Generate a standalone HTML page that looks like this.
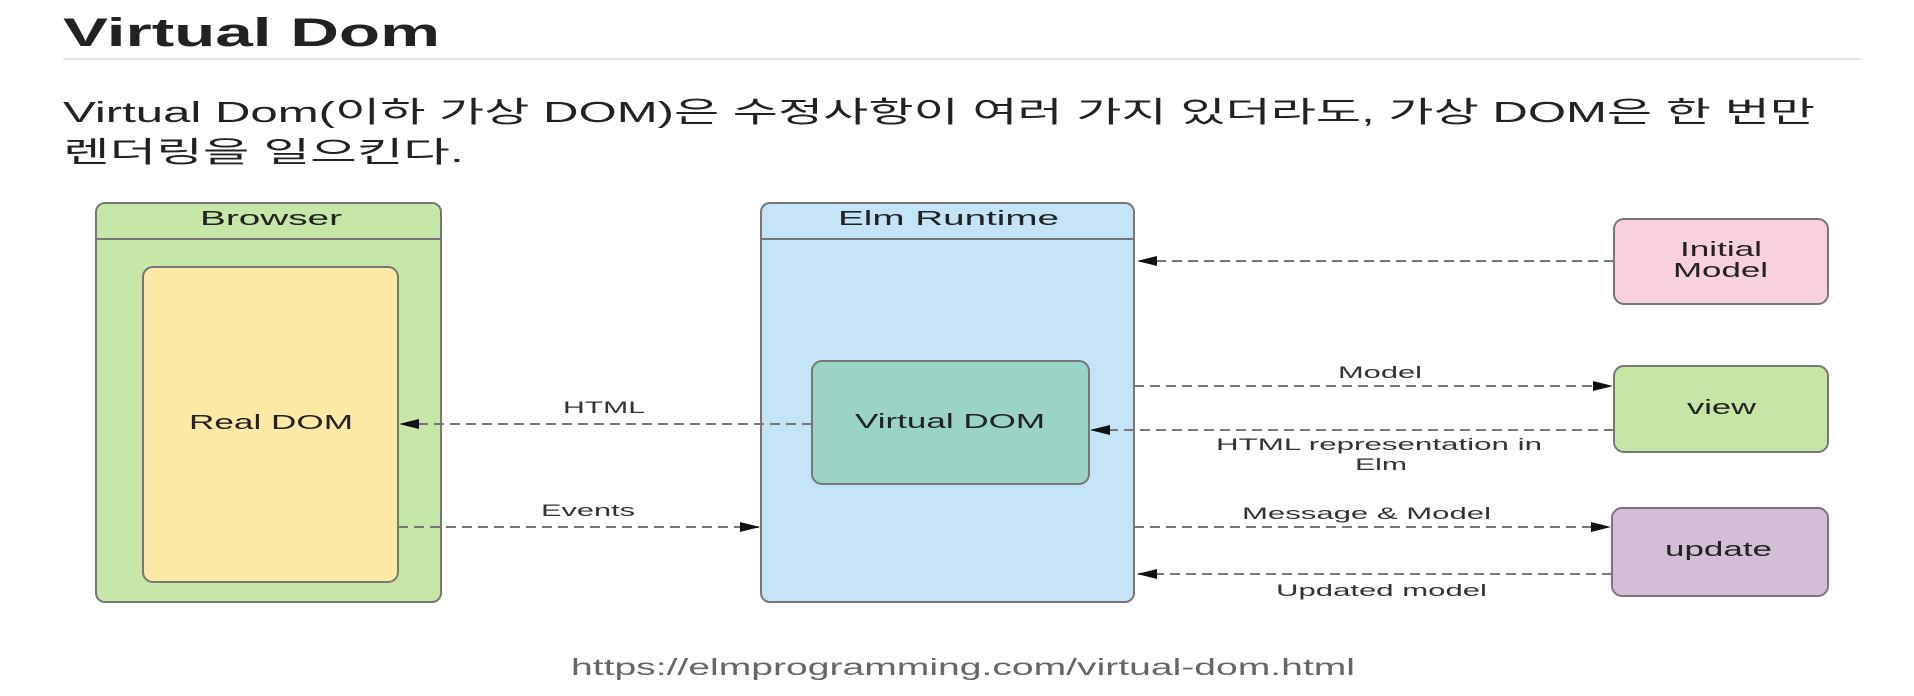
<!DOCTYPE html>
<html><head><meta charset="utf-8"><style>
html,body{margin:0;padding:0;background:#fff;}
svg{display:block;}
text{font-family:"Liberation Sans","Noto Sans CJK KR",sans-serif;}
</style></head><body>
<svg width="1914" height="696" viewBox="0 0 1914 696" xmlns="http://www.w3.org/2000/svg">
<defs>
<marker id="ah" markerWidth="20" markerHeight="14" refX="19" refY="7" orient="auto" markerUnits="userSpaceOnUse">
<path d="M0,2 L20,7 L0,12 z" fill="#111"/></marker>
</defs>
<text x="63" y="46" font-size="40" font-weight="bold" fill="#222" textLength="377" lengthAdjust="spacingAndGlyphs">Virtual Dom</text>
<line x1="63" y1="59" x2="1862" y2="59" stroke="#e6e6e6" stroke-width="2"/>
<text x="63" y="122" font-size="29" fill="#222" textLength="1752" lengthAdjust="spacingAndGlyphs">Virtual Dom(이하 가상 DOM)은 수정사항이 여러 가지 있더라도, 가상 DOM은 한 번만</text>
<text x="63" y="162" font-size="29" fill="#222" textLength="401" lengthAdjust="spacingAndGlyphs">렌더링을 일으킨다.</text>

<g stroke="#777" stroke-width="2">
<rect x="96" y="203" width="345" height="399" rx="9" fill="#c6e7a8"/>
<line x1="96" y1="239" x2="441" y2="239"/>
<rect x="143" y="267" width="255" height="315" rx="10" fill="#fde9a6"/>
<rect x="761" y="203" width="373" height="399" rx="9" fill="#c3e3f6"/>
<line x1="761" y1="239" x2="1134" y2="239"/>
<rect x="812" y="361" width="277" height="123" rx="10" fill="#9ad4c7"/>
<rect x="1614" y="219" width="214" height="85" rx="10" fill="#f8d1dd"/>
<rect x="1614" y="366" width="214" height="86" rx="10" fill="#c6e6a6"/>
<rect x="1612" y="508" width="216" height="88" rx="10" fill="#d4bdd6"/>
</g>

<g fill="#222" font-size="20">
<text x="200" y="225" textLength="142" lengthAdjust="spacingAndGlyphs">Browser</text>
<text x="838" y="225" textLength="221" lengthAdjust="spacingAndGlyphs">Elm Runtime</text>
<text x="189" y="429" textLength="164" lengthAdjust="spacingAndGlyphs">Real DOM</text>
<text x="855" y="428" textLength="190" lengthAdjust="spacingAndGlyphs">Virtual DOM</text>
<text x="1680" y="256" textLength="82" lengthAdjust="spacingAndGlyphs">Initial</text>
<text x="1673" y="277" textLength="95" lengthAdjust="spacingAndGlyphs">Model</text>
<text x="1687" y="414" textLength="69" lengthAdjust="spacingAndGlyphs">view</text>
<text x="1665" y="556" textLength="107" lengthAdjust="spacingAndGlyphs">update</text>
</g>
<g fill="#333" font-size="17">
<text x="1338" y="378" textLength="84" lengthAdjust="spacingAndGlyphs">Model</text>
<text x="1216" y="450" textLength="326" lengthAdjust="spacingAndGlyphs">HTML representation in</text>
<text x="1355" y="470" textLength="52" lengthAdjust="spacingAndGlyphs">Elm</text>
<text x="563" y="413" textLength="82" lengthAdjust="spacingAndGlyphs">HTML</text>
<text x="541" y="516" textLength="94" lengthAdjust="spacingAndGlyphs">Events</text>
<text x="1242" y="519" textLength="249" lengthAdjust="spacingAndGlyphs">Message &amp; Model</text>
<text x="1276" y="596" textLength="211" lengthAdjust="spacingAndGlyphs">Updated model</text>
</g>

<g stroke="#777" stroke-width="2" stroke-dasharray="10,6" fill="none">
<line x1="1614" y1="261" x2="1138" y2="261" marker-end="url(#ah)"/>
<line x1="1134" y1="386" x2="1612" y2="386" marker-end="url(#ah)"/>
<line x1="1614" y1="430" x2="1091" y2="430" marker-end="url(#ah)"/>
<line x1="812" y1="424" x2="400" y2="424" marker-end="url(#ah)"/>
<line x1="398" y1="527" x2="759" y2="527" marker-end="url(#ah)"/>
<line x1="1134" y1="527" x2="1610" y2="527" marker-end="url(#ah)"/>
<line x1="1612" y1="574" x2="1138" y2="574" marker-end="url(#ah)"/>
</g>

<text x="571" y="675" font-size="23" fill="#666" textLength="784" lengthAdjust="spacingAndGlyphs">https://elmprogramming.com/virtual-dom.html</text>
</svg>
</body></html>
